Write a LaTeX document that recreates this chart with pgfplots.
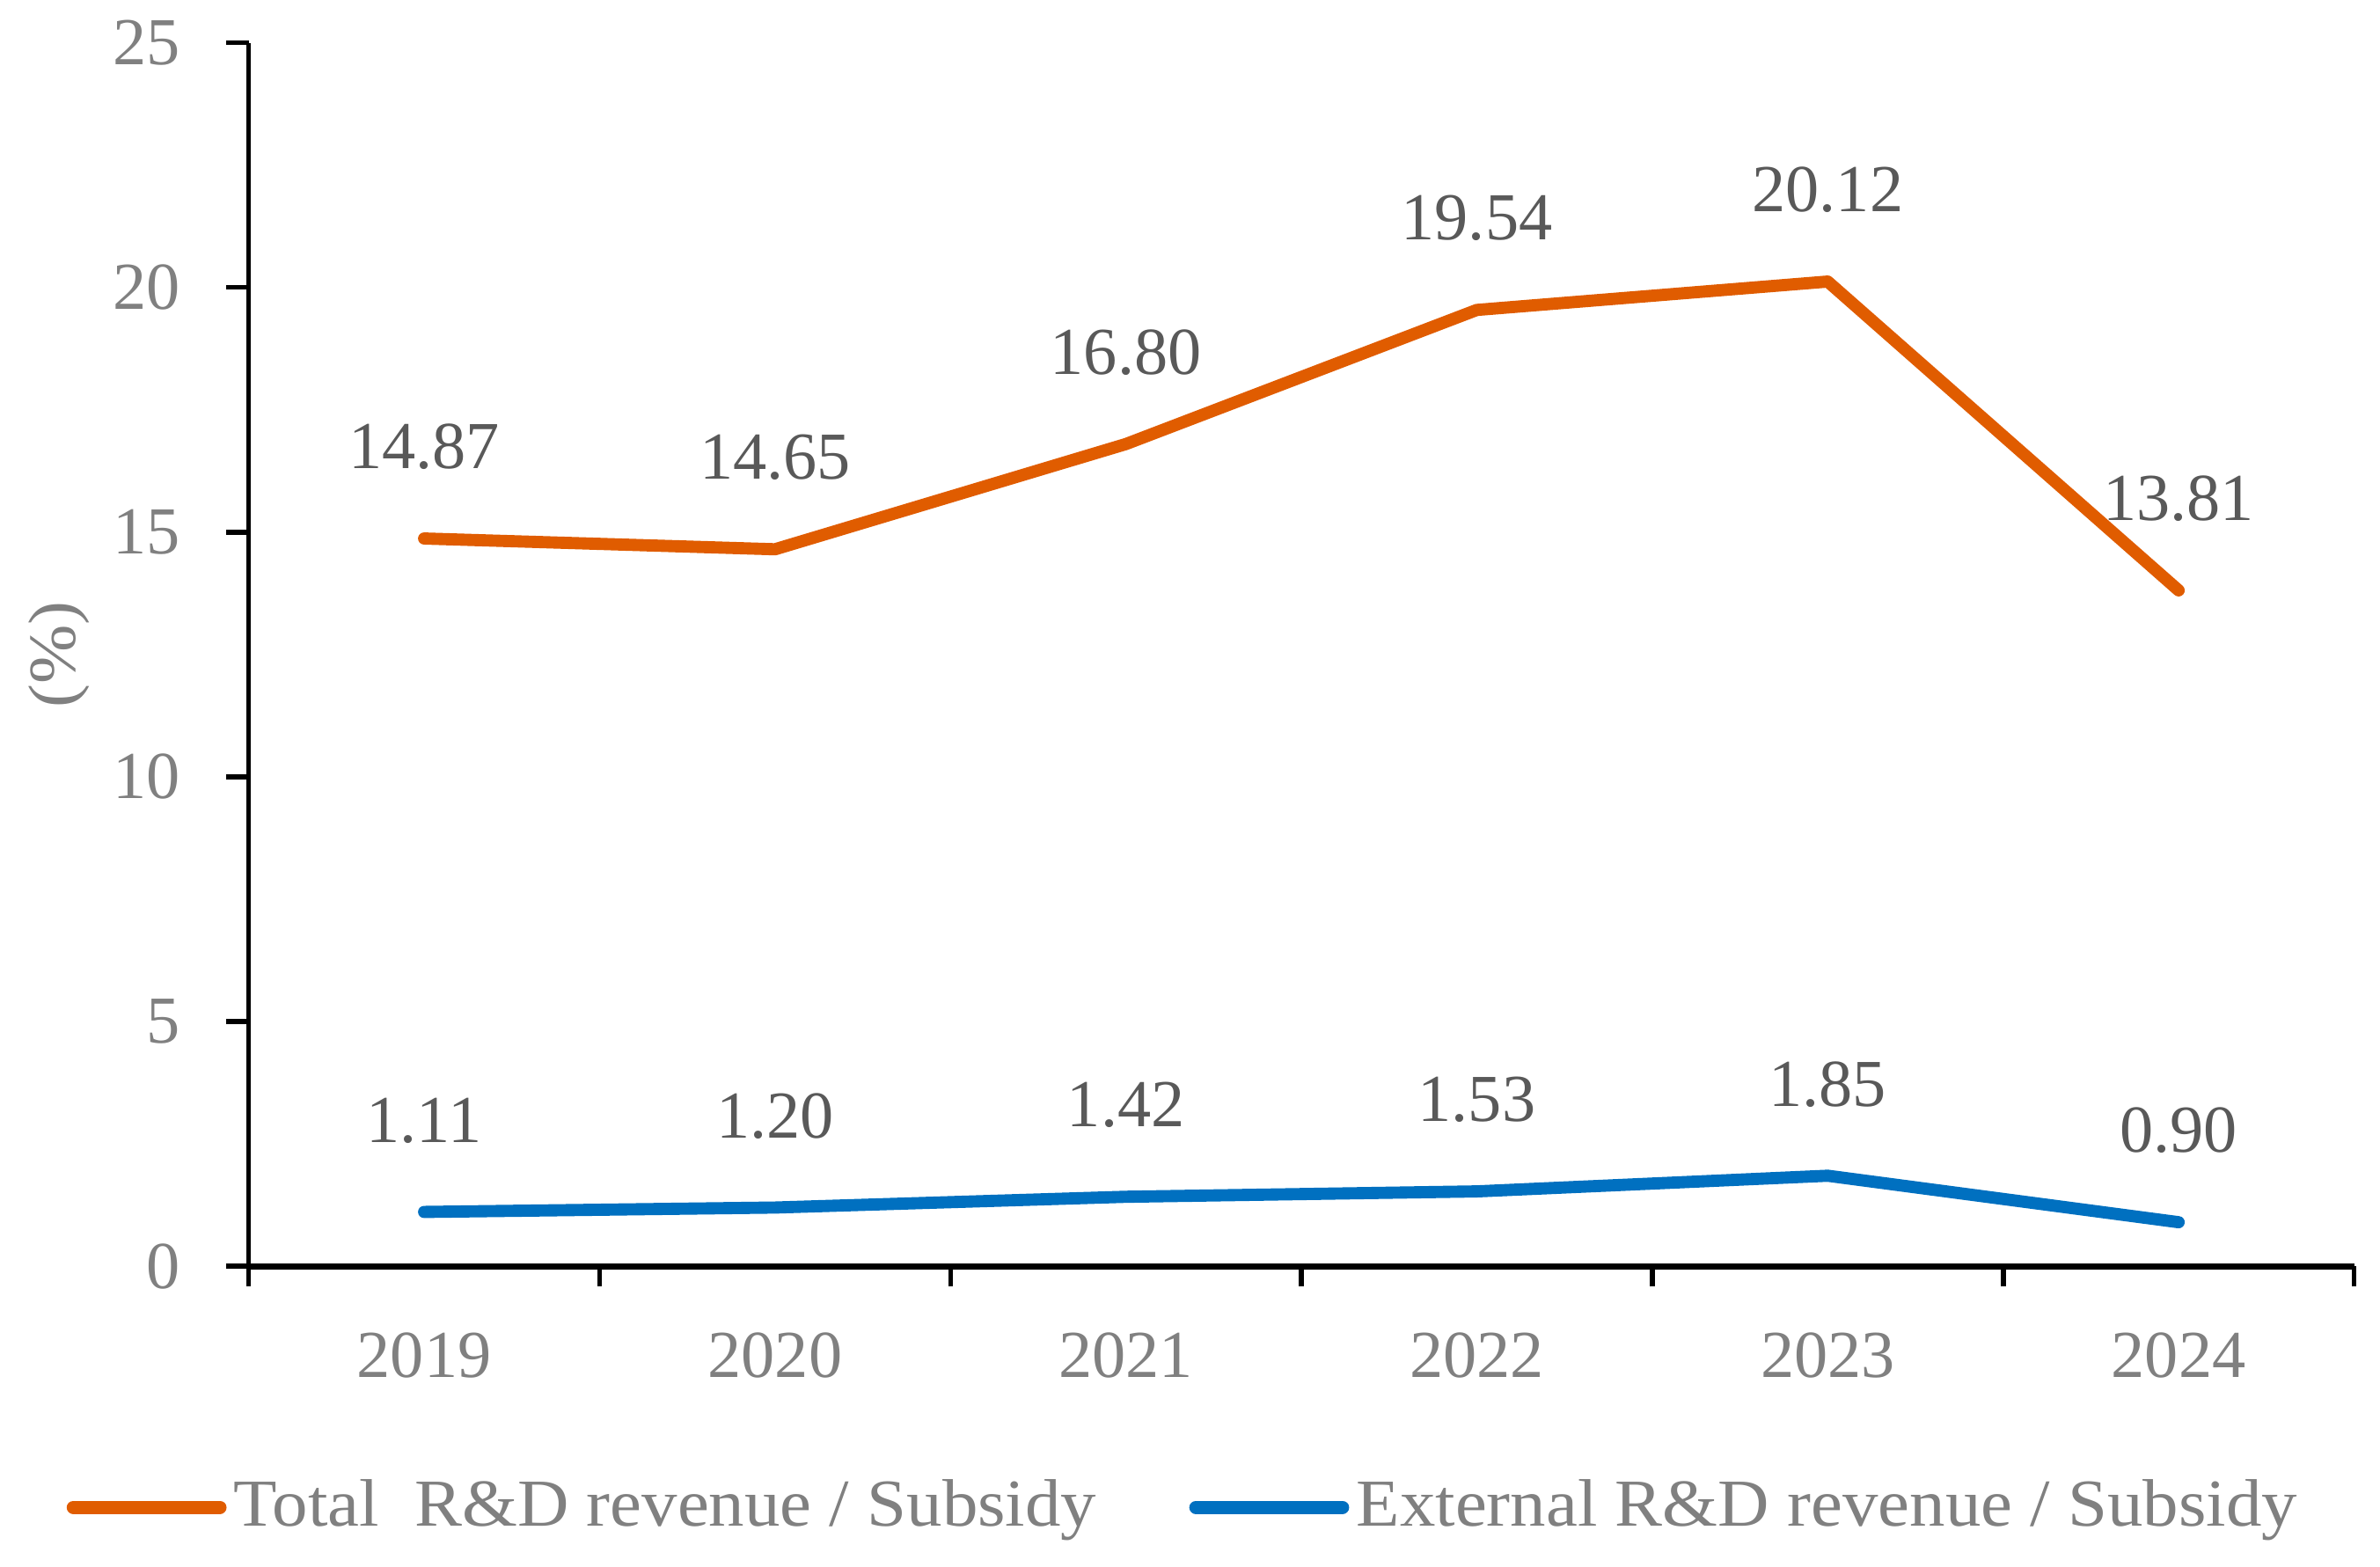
\documentclass[border=0pt]{standalone}
\usepackage{fontspec}
\setmainfont{Liberation Serif}
\newfontfamily\legfont{Liberation Serif}[FakeStretch=1.06]
\usepackage{pgfplots}
\pgfplotsset{compat=1.18}
\definecolor{cOrange}{HTML}{E05C00}
\definecolor{cBlue}{HTML}{0070C0}
\definecolor{tickgray}{HTML}{808080}
\definecolor{labgray}{HTML}{595959}
\begin{document}
\begin{tikzpicture}
\useasboundingbox (-163*0.25pt,-197*0.25pt) rectangle (1397*0.25pt,830*0.25pt);
\begin{axis}[
  scale only axis,
  width=345pt, height=200.5pt,
  xmin=0, xmax=6, ymin=0, ymax=25,
  axis x line=bottom, axis y line=left,
  axis line style={-, black, line width=0.8pt},
  x axis line style={line width=1pt},
  /pgf/number format/assume math mode=true,
  font=\fontsize{11}{13}\selectfont,
  ytick={0,5,...,25},
  yticklabel style={text=tickgray, xshift=-4pt},
  ytick style={black, line width=0.8pt},
  tick align=outside,
  major tick length=3.7pt,
  xtick={0.5,1.5,...,5.5},
  xticklabels={2019,2020,2021,2022,2023,2024},
  xticklabel style={text=tickgray, yshift=-3.6pt},
  xtick style={draw=none},
  extra x ticks={0,1,...,6},
  extra x tick labels={},
  extra x tick style={xtick style={black, line width=0.8pt, draw=black}, major tick length=3.3pt},
  ylabel={(\%)},
  every axis y label/.style={at={(rel axis cs:0,0.5)}, anchor=center, rotate=90, yshift=31pt, text=tickgray, font=\legfont\fontsize{11}{13}\selectfont},
  nodes near coords,
  point meta=y,
  every node near coord/.append style={anchor=center, yshift=15pt, text=labgray, font=\fontsize{11}{13}\selectfont,
    /pgf/number format/.cd, fixed, fixed zerofill, precision=2, assume math mode=true},
  legend columns=2,
  legend style={draw=none, fill=none, at={(0.445,-0.197)}, anchor=center,
    font=\legfont\fontsize{11}{13}\selectfont, text=tickgray,
    /tikz/every even column/.append style={column sep=14pt},
    nodes={inner xsep=1.2pt}},
  legend image code/.code={\draw[#1, line width=2.2pt, line cap=round] (0pt,0pt) -- (24pt,0pt);},
  clip=false,
]
\addplot[cOrange, line width=2pt, line cap=round, line join=round] coordinates {
  (0.5,14.87) (1.5,14.65) (2.5,16.80) (3.5,19.54) (4.5,20.12) (5.5,13.81)
};
\addlegendentry{Total\ \ R\&D revenue / Subsidy}
\addplot[cBlue, line width=2pt, line cap=round, line join=round] coordinates {
  (0.5,1.11) (1.5,1.20) (2.5,1.42) (3.5,1.53) (4.5,1.85) (5.5,0.90)
};
\addlegendentry{External R\&D revenue / Subsidy}
\end{axis}
\end{tikzpicture}
\end{document}
